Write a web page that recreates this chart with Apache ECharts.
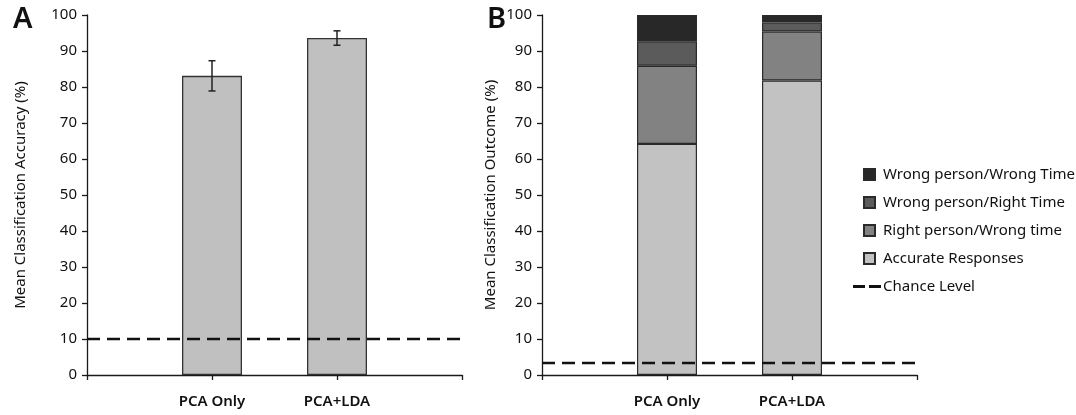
<!DOCTYPE html>
<html>
<head>
<meta charset="utf-8">
<script src="https://cdn.jsdelivr.net/npm/echarts@6/dist/echarts.min.js"></script>
<style>
  html, body { margin: 0; padding: 0; background: #fff; }
  #chart { width: 1076px; height: 415px; }
</style>
</head>
<body>
<div id="chart"></div>
<script>
  // categories (blank ends so bars sit on the ticks)
  var categories = ['', 'PCA Only', 'PCA+LDA', '']
  // panel A
  var accuracy = [83.1, 93.6]
  var accuracyErr = [4.2, 2.0]
  var chanceA = 10
  // panel B (stacked, bottom to top)
  var accurate = [64.2, 81.8]
  var rightPersonWrongTime = [21.7, 13.6]
  var wrongPersonRightTime = [6.7, 2.5]
  var wrongPersonWrongTime = [7.4, 2.1]
  var chanceB = 3.3

  var font = 'Noto Sans'
  var pad = function (arr) { return ['-'].concat(arr, ['-']) }
  var flat = function (v) { return categories.map(function () { return v }) }

  var xAxisBase = function (gridIndex) {
    return {
      type: 'category',
      gridIndex: gridIndex,
      data: categories,
      boundaryGap: false,
      axisLine: { lineStyle: { color: '#1a1a1a', width: 1.3 } },
      axisTick: { show: true, length: 5, interval: 0, lineStyle: { color: '#1a1a1a', width: 1.3 } },
      axisLabel: { interval: 0, margin: 19, color: '#111', fontSize: 15, fontWeight: 600, fontFamily: font },
      splitLine: { show: false }
    }
  }
  var yAxisBase = function (gridIndex, name, gap) {
    return {
      type: 'value',
      gridIndex: gridIndex,
      min: 0, max: 100, interval: 10,
      name: name,
      nameLocation: 'middle',
      nameGap: gap,
      nameTextStyle: { color: '#111', fontSize: 15, fontFamily: font },
      axisLine: { show: true, lineStyle: { color: '#1a1a1a', width: 1.3 } },
      axisTick: { show: true, length: 5, lineStyle: { color: '#1a1a1a', width: 1.3 } },
      axisLabel: { margin: 10, color: '#111', fontSize: 15, fontFamily: font },
      splitLine: { show: false }
    }
  }
  var dash = { color: '#111', width: 2.5, type: [13, 7] }

  var stackItem = function (name, data, color) {
    return {
      name: name,
      type: 'bar',
      stack: 'outcome',
      xAxisIndex: 1, yAxisIndex: 1,
      barWidth: 60,
      data: pad(data),
      itemStyle: { color: color, borderColor: '#2a2a2a', borderWidth: 1.2 }
    }
  }

  var myChart = echarts.init(document.getElementById('chart'))
  myChart.setOption({
    backgroundColor: '#fff',
    animation: false,
    title: [
      { text: 'A', left: 8, top: 0, textStyle: { fontSize: 29, fontWeight: 600, color: '#111', fontFamily: font } },
      { text: 'B', left: 482, top: 0, textStyle: { fontSize: 29, fontWeight: 600, color: '#111', fontFamily: font } }
    ],
    grid: [
      { left: 87, top: 15, width: 375, height: 360 },
      { left: 542, top: 15, width: 375, height: 360 }
    ],
    xAxis: [xAxisBase(0), xAxisBase(1)],
    yAxis: [
      yAxisBase(0, 'Mean Classification Accuracy (%)', 59),
      yAxisBase(1, 'Mean Classification Outcome (%)', 44)
    ],
    legend: [
      {
        orient: 'vertical',
        left: 858, top: 162,
        itemWidth: 11, itemHeight: 11, itemGap: 13,
        icon: 'rect',
        data: ['Wrong person/Wrong Time', 'Wrong person/Right Time', 'Right person/Wrong time', 'Accurate Responses'],
        textStyle: { color: '#111', fontSize: 15, fontFamily: font, padding: [0, 0, 0, 3] }
      },
      {
        orient: 'vertical',
        left: 848, top: 274,
        itemWidth: 28, itemHeight: 3,
        data: [{ name: 'Chance Level', icon: 'path://M0 0h12v3h-12z M16 0h12v3h-12z' }],
        itemStyle: { color: '#111' },
        textStyle: { color: '#111', fontSize: 15, fontFamily: font, padding: [0, 0, 0, -3] }
      }
    ],
    series: [
      {
        name: 'Accuracy',
        type: 'bar',
        xAxisIndex: 0, yAxisIndex: 0,
        barWidth: 60,
        data: pad(accuracy),
        itemStyle: { color: '#c0c0c0', borderColor: '#333', borderWidth: 1.3 }
      },
      {
        name: 'Error',
        type: 'custom',
        xAxisIndex: 0, yAxisIndex: 0,
        z: 5,
        data: accuracy.map(function (v, i) { return [i + 1, v - accuracyErr[i], v + accuracyErr[i]] }),
        renderItem: function (params, api) {
          var lo = api.coord([api.value(0), api.value(1)])
          var hi = api.coord([api.value(0), api.value(2)])
          var cap = 3.5
          var style = { stroke: '#222', lineWidth: 1.5 }
          return {
            type: 'group',
            children: [
              { type: 'line', shape: { x1: hi[0], y1: hi[1], x2: lo[0], y2: lo[1] }, style: style },
              { type: 'line', shape: { x1: hi[0] - cap, y1: hi[1], x2: hi[0] + cap, y2: hi[1] }, style: style },
              { type: 'line', shape: { x1: lo[0] - cap, y1: lo[1], x2: lo[0] + cap, y2: lo[1] }, style: style }
            ]
          }
        }
      },
      {
        name: 'Chance A',
        type: 'line',
        xAxisIndex: 0, yAxisIndex: 0,
        z: 6,
        symbol: 'none',
        data: flat(chanceA),
        lineStyle: dash
      },
      stackItem('Accurate Responses', accurate, '#c2c2c2'),
      stackItem('Right person/Wrong time', rightPersonWrongTime, '#828282'),
      stackItem('Wrong person/Right Time', wrongPersonRightTime, '#5b5b5b'),
      stackItem('Wrong person/Wrong Time', wrongPersonWrongTime, '#282828'),
      {
        name: 'Chance Level',
        type: 'line',
        xAxisIndex: 1, yAxisIndex: 1,
        z: 6,
        symbol: 'none',
        data: flat(chanceB),
        lineStyle: dash
      }
    ]
  })
</script>
</body>
</html>
